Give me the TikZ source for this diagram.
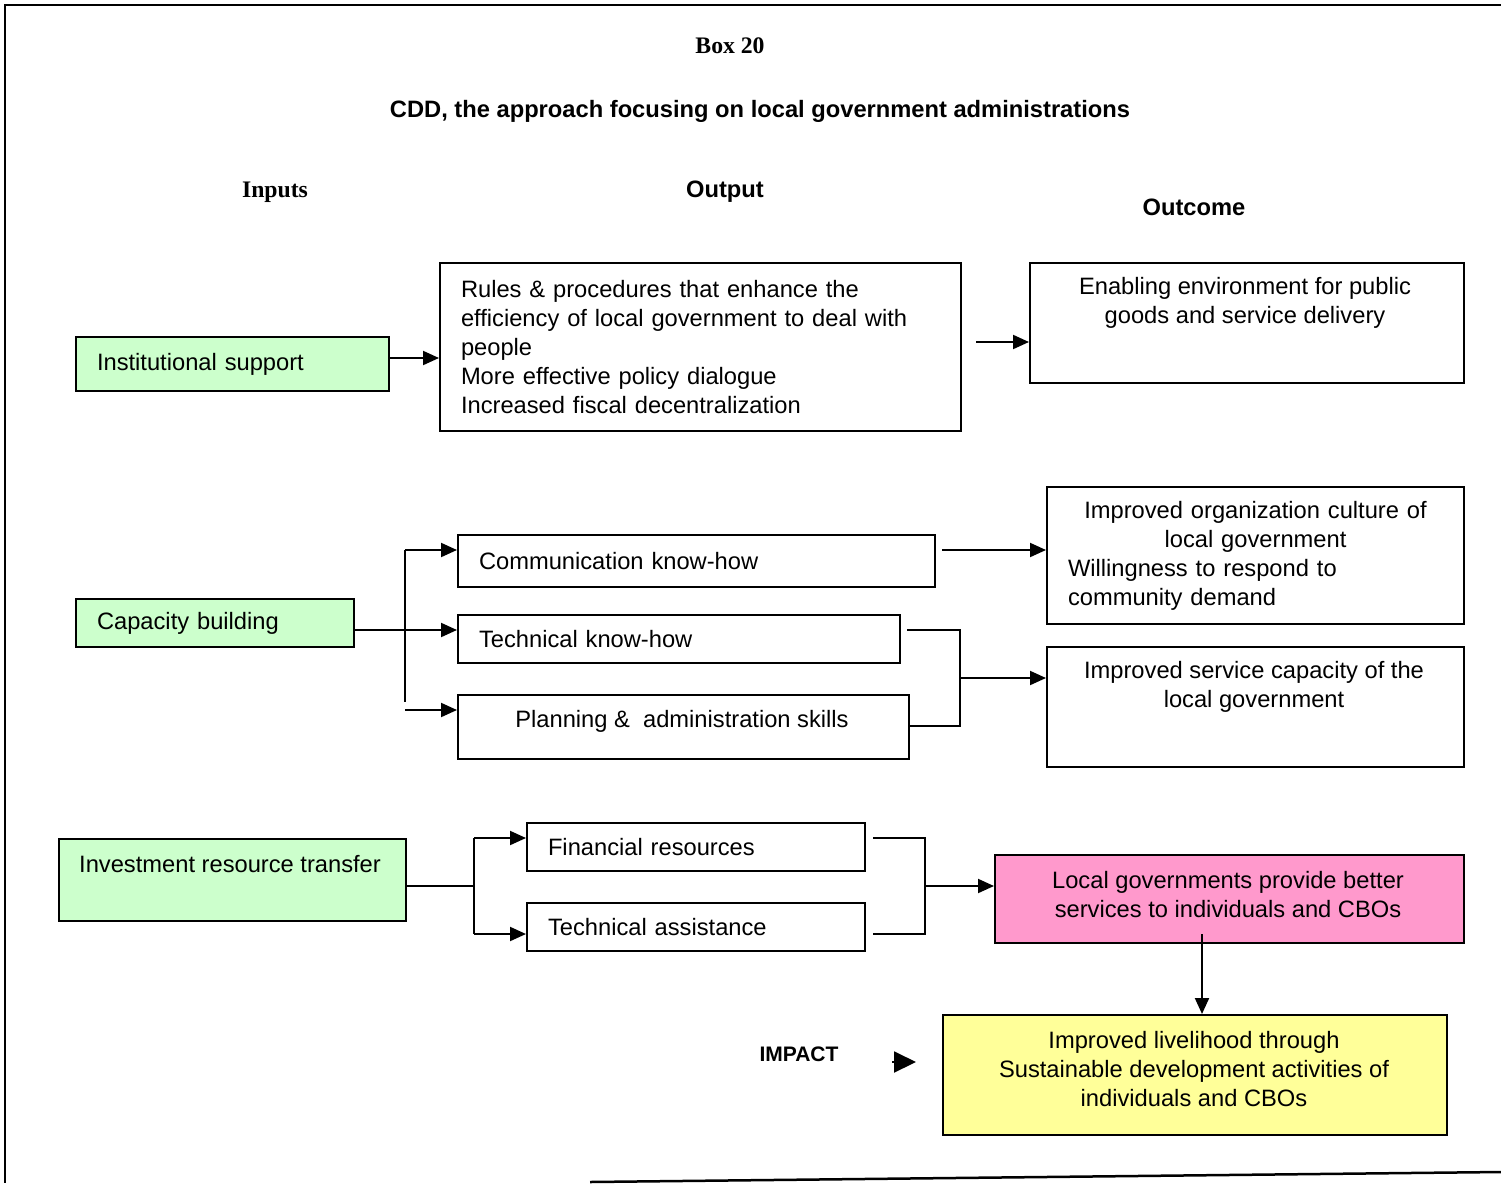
\documentclass[tikz,border=0pt]{standalone}
\usepackage{fontspec}
\setmainfont{Liberation Sans}
\newfontfamily\timesfont{Liberation Serif}
\usetikzlibrary{arrows.meta}
\definecolor{inputgreen}{HTML}{CCFFCC}
\definecolor{outpink}{HTML}{FF99CC}
\definecolor{impyellow}{HTML}{FFFF99}
\newcommand\boxfont{\fontsize{23.7}{29}\selectfont}
\begin{document}
\begin{tikzpicture}[x=1pt, y=-1pt,
    box/.style={draw, line width=2pt, anchor=north west, inner xsep=21pt, inner ysep=0pt, font=\boxfont},
    inbox/.style={box, fill=inputgreen},
    link/.style={line width=2pt},
    arr/.style={line width=2pt, -{Triangle[length=16pt,width=14pt]}},
    txt/.style={font=\boxfont, inner sep=0pt},
    head/.style={font=\bfseries\boxfont, inner sep=0pt},
    serifhead/.style={font=\timesfont\bfseries\boxfont, inner sep=0pt}]
    \useasboundingbox (0,0) rectangle (1501,1183);
    % frame
    \draw [line width=2.5pt] (1501,5) -- (5,5) -- (5,1183);
    \draw [line width=2.5pt] (590,1182) -- (1501,1172);
    % headings
    \node [serifhead] (boxno) at (730,46) {Box 20};
    \node [head] (title) at (760,111) {CDD, the approach focusing on local government administrations};
    \node [serifhead] (inputs) at (275,192) {Inputs};
    \node [head] (output) at (725,192) {Output};
    \node [head] (outcome) at (1194,207) {Outcome};
    % institutional support
    \node [inbox, minimum width=313pt, minimum height=54pt, text width=271pt, align=left] (inst) at (75,336) {Institutional support};
    \node [box, minimum width=521pt, minimum height=168pt, text width=479pt, align=left] (rules) at (439,262) {Rules \& procedures that enhance the\\efficiency of local government to deal with\\people\\More effective policy dialogue\\Increased fiscal decentralization};
    \node [box, minimum width=434pt, minimum height=120pt] (enab) at (1029,262) {};
    \node [txt, align=center] (enabT) at (1245,303) {Enabling environment for public\\goods and service delivery};
    \draw [arr] ([yshift=6pt]inst.east) -- ([yshift=6pt]inst.east -| rules.west);
    \coordinate (enabIn) at (976,342);
    \draw [arr] (enabIn) -- (enabIn -| enab.west);
    % capacity building
    \node [inbox, minimum width=278pt, minimum height=48pt, text width=236pt, align=left] (cap) at (75,598) {Capacity building};
    \node [box, minimum width=477pt, minimum height=52pt, text width=435pt, align=left] (comm) at (457,534) {Communication know-how};
    \node [box, minimum width=442pt, minimum height=48pt, text width=400pt, align=left] (tech) at (457,614) {Technical know-how};
    \node [box, minimum width=451pt, minimum height=64pt] (plan) at (457,694) {};
    \node [txt] (planT) at (682,721) {Planning \& \ administration skills};
    \node [box, minimum width=417pt, minimum height=137pt, text width=375pt, align=center] (org) at (1046,486) {Improved organization culture of\\local government\\Willingness to respond to\hfill\null\\community demand\hfill\null};
    \node [box, minimum width=417pt, minimum height=120pt] (serv) at (1046,646) {};
    \node [txt, align=center] (servT) at (1254,687) {Improved service capacity of the\\local government};
    \coordinate (capJ) at (405,630);
    \coordinate (capTop) at (405,550);
    \coordinate (capBot) at (405,702);
    \coordinate (capLow) at (405,710);
    \draw [link] (cap.east |- capJ) -- (capJ);
    \draw [link] (capTop) -- (capBot);
    \draw [arr] (capTop) -- (capTop -| comm.west);
    \draw [arr] (capJ) -- (capJ -| tech.west);
    \draw [arr] (capLow) -- (capLow -| plan.west);
    \coordinate (orgIn) at (942,550);
    \draw [arr] (orgIn) -- (orgIn -| org.west);
    \draw [link] (907,630) -- (960,630) -- (960,726) -- (908,726);
    \coordinate (servIn) at (960,678);
    \draw [arr] (servIn) -- (servIn -| serv.west);
    % investment resource transfer
    \node [inbox, minimum width=347pt, minimum height=82pt] (inv) at (58,838) {};
    \node [txt, anchor=west] (invT) at (79,864) {Investment resource transfer};
    \node [box, minimum width=338pt, minimum height=48pt, text width=296pt, align=left] (fin) at (526,822) {Financial resources};
    \node [box, minimum width=338pt, minimum height=48pt, text width=296pt, align=left] (tass) at (526,902) {Technical assistance};
    \node [box, fill=outpink, minimum width=469pt, minimum height=88pt] (loc) at (994,854) {};
    \node [txt, align=center] (locT) at (1228,895) {Local governments provide better\\services to individuals and CBOs};
    \node [box, fill=impyellow, minimum width=504pt, minimum height=120pt] (live) at (942,1014) {};
    \node [txt, align=center] (liveT) at (1194,1069) {Improved livelihood through\\Sustainable development activities of\\individuals and CBOs};
    \coordinate (invJ) at (474,886);
    \coordinate (finIn) at (474,838);
    \coordinate (tassIn) at (474,934);
    \draw [link] (inv.east |- invJ) -- (invJ);
    \draw [link] (finIn) -- (tassIn);
    \draw [arr] (finIn) -- (finIn -| fin.west);
    \draw [arr] (tassIn) -- (tassIn -| tass.west);
    \draw [link] (873,838) -- (925,838) -- (925,934) -- (873,934);
    \coordinate (locIn) at (925,886);
    \draw [arr] (locIn) -- (locIn -| loc.west);
    \coordinate (liveIn) at (1202,934);
    \draw [arr] (liveIn) -- (liveIn |- live.north);
    % impact
    \node [head, font=\bfseries\fontsize{21}{25}\selectfont] (impact) at (799,1054) {IMPACT};
    \coordinate (impS) at (892,1062);
    \draw [line width=2pt, -{Triangle[length=22pt,width=21pt]}] (impS) -- ++(24,0);
\end{tikzpicture}
\end{document}
